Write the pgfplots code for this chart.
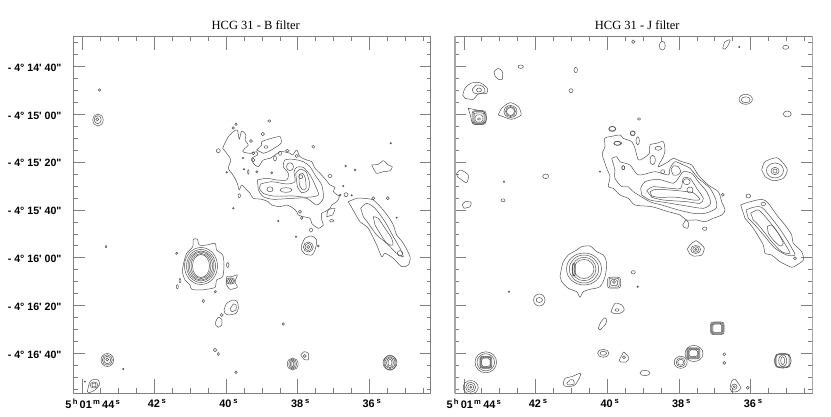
\documentclass[border=0pt]{standalone}
\usepackage{fontspec}
\usepackage{pgfplots}
\pgfplotsset{compat=1.18}
\newfontfamily\lab{Liberation Sans}
\newfontfamily\ttl{Liberation Serif}
\definecolor{cc}{gray}{0.32}
\definecolor{ax}{gray}{0.50}
\pgfdeclareplotmark{rsq}{%
 \pgfpathmoveto{\pgfqpoint{0.55pt}{1pt}}%
 \pgfpathlineto{\pgfqpoint{-0.55pt}{1pt}}%
 \pgfpathcurveto{\pgfqpoint{-0.85pt}{1pt}}{\pgfqpoint{-1pt}{0.85pt}}{\pgfqpoint{-1pt}{0.55pt}}%
 \pgfpathlineto{\pgfqpoint{-1pt}{-0.55pt}}%
 \pgfpathcurveto{\pgfqpoint{-1pt}{-0.85pt}}{\pgfqpoint{-0.85pt}{-1pt}}{\pgfqpoint{-0.55pt}{-1pt}}%
 \pgfpathlineto{\pgfqpoint{0.55pt}{-1pt}}%
 \pgfpathcurveto{\pgfqpoint{0.85pt}{-1pt}}{\pgfqpoint{1pt}{-0.85pt}}{\pgfqpoint{1pt}{-0.55pt}}%
 \pgfpathlineto{\pgfqpoint{1pt}{0.55pt}}%
 \pgfpathcurveto{\pgfqpoint{1pt}{0.85pt}}{\pgfqpoint{0.85pt}{1pt}}{\pgfqpoint{0.55pt}{1pt}}%
 \pgfpathclose\pgfusepathqstroke}
\pgfplotsset{
 contour/.style={no marks,solid,draw=cc,line width=0.5pt,smooth,tension=0.45,line join=round},
 hcgbase/.style={
  scale only axis,width=357.2pt,height=357pt,
  anchor=south west,
  ymin=36.3,ymax=393.3,y dir=reverse,
  tick align=inside,
 },
 hcg/.style={hcgbase,
  axis line style={draw=ax,line width=0.8pt},
  major tick length=14pt,minor tick length=5pt,
  xtick style={draw=ax,line width=0.6pt},
  ytick=\empty,
  xticklabels={\hspace*{15pt}5\textsuperscript{\,h}\,01\textsuperscript{\,m}\,44\textsuperscript{\,s},42\,\textsuperscript{s},40\,\textsuperscript{s},38\,\textsuperscript{s},36\,\textsuperscript{s}},
  xticklabel style={font=\lab\bfseries\fontsize{10.9}{11}\selectfont,xshift=2.7pt,yshift=-2.5pt},
  title style={font=\ttl\fontsize{12.5}{13}\selectfont,at={(0.5,1)},anchor=south,xshift=3.7pt,yshift=-2.5pt},
 },
 hcgy/.style={hcgbase,
  axis line style={draw=none},
  major tick length=11pt,minor tick length=4pt,
  ytick style={draw=ax,line width=0.6pt},
  xtick=\empty,
  ytick={66.3,114.2,162.1,210,257.6,305.4,353.3},
  minor ytick={42.3,54.3,78.3,90.3,102.2,126.2,138.1,150.1,174.1,186,198,222,233.9,245.7,269.5,281.5,293.4,317.4,329.4,341.3,365.3,377.3,389.3},
 },
}
\newcommand\ring[4]{\addplot[only marks,mark=o,mark size=1pt,mark options={solid,draw=cc,fill=none,line width=0.5pt,xscale=#3,yscale=#4}] coordinates {(#1,#2)};}
\newcommand\sq[4]{\addplot[only marks,mark=rsq,mark size=1pt,mark options={solid,draw=cc,fill=none,line width=0.5pt,xscale=#3,yscale=#4}] coordinates {(#1,#2)};}
\begin{document}
\begin{tikzpicture}[x=1pt,y=1pt]
\path[use as bounding box] (0,0) rectangle (831pt,417pt);
% ---------- B filter ----------
\begin{axis}[hcgy,at={(73.5pt,23.7pt)},xmin=73.5,xmax=430.7,
 yticklabels={- 4° 14' 40",- 4° 15' 00",- 4° 15' 20",- 4° 15' 40",- 4° 16' 00",- 4° 16' 20",- 4° 16' 40"},
 yticklabel style={font=\lab\bfseries\fontsize{10.6}{11}\selectfont,anchor=east,xshift=-8.5pt,yshift=-1.2pt},
]
\end{axis}
\begin{axis}[hcg,at={(73.5pt,23.7pt)},title={HCG 31 - B filter},
 xmin=73.5,xmax=430.7,
 xtick={82.7,154.4,226,297.7,369.3},
 minor xtick={100.6,118.5,136.5,172.3,190.2,208.1,243.9,261.8,279.8,315.6,333.5,351.4,387.2,405.1,423},
]
\addplot[contour] coordinates {(224,145)(228.3,136.7)(233.3,131.7)(237.3,130)(239.3,139.3)(241.7,131)(246,135)(245,140)(248.3,145)(245,148.3)(242.7,151.7)(250,153.3)(256.7,151.7)(257.3,155)(251.7,158.3)(253.3,163.3)(258.3,166.7)(263.3,160)(270,158.3)(275,155)(280,151.7)(283.3,151.7)(290,153.3)(292.7,155)(296.7,150)(300,156.7)(306.7,160)(311.7,161.7)(315,168.3)(320,173.3)(326,180)(330,185)(335,187.3)(333.3,191.7)(339.3,196.7)(336.7,201.7)(331.7,205)(330,208.3)(325,211.7)(321.7,213.3)(321.7,220)(323.3,225)(318.3,228.3)(313.3,225)(311.7,223.3)(310,218.3)(303.3,216.7)(298.3,215)(296.7,211.7)(293.3,208.3)(286.7,205)(280,206.7)(271.7,205)(268.3,201.7)(261.7,199.3)(253.3,198.3)(250,193.3)(246.7,190)(241.7,185)(239.3,190)(237.3,183.3)(235,178.3)(231.7,173.3)(228.3,168.3)(230.7,160)(226.7,153.3)(222.7,148.3)} --cycle;
\addplot[contour] coordinates {(257.3,180)(266.7,178.3)(276.7,180)(286.7,180)(288.3,173.3)(283.3,166.7)(285,160)(293.3,159.3)(303.3,161.7)(310,166.7)(315,175)(321.7,185)(323.3,198.3)(316.7,205)(306.7,198.3)(293.3,198.3)(273.3,199.3)(263.3,196.7)(258.3,190)} --cycle;
\addplot[contour] coordinates {(260.7,184)(271.7,181.7)(286.7,184)(295,181.7)(294,171.7)(296.7,167.3)(303.3,167.3)(310,175)(315,185)(318.3,195)(306.7,197.3)(293.3,196)(273.3,196)(263.3,193.3)(259.3,188.3)} --cycle;
\addplot[contour] coordinates {(295.7,173.3)(300,169.3)(306,171.7)(309.3,181.7)(308.3,190)(301.7,192.7)(297.3,186.7)} --cycle;
\addplot[contour] coordinates {(299,175)(302.7,173.3)(305.3,178.3)(306,188.3)(302.7,190)(299.3,185)} --cycle;
\addplot[contour] coordinates {(256.7,150)(261.7,145)(261.7,141.7)(271.7,138.3)(280,136.7)(281,143.3)(274,148.3)(268.3,151.7)(263.3,153.3)} --cycle;
\addplot[contour] coordinates {(326.7,216.7)(328.3,210)(335,208.3)(332.7,215)} --cycle;
\ring{300.7}{176.7}{2}{2}\ring{270}{189.3}{3}{2.5}\ring{286}{190}{6}{2.3}\ring{290}{166.7}{3.5}{4}
\ring{253.3}{153.3}{1.5}{1.5}\ring{287.3}{150.7}{1.8}{1.3}\ring{296.7}{156}{1.8}{1.5}\ring{275}{158.3}{1.5}{2.5}\ring{280}{153.3}{1.5}{2}\ring{248.3}{172}{0.7}{2.2}\ring{243}{158}{0.8}{0.8}\ring{266}{147}{2}{1.3}
% right galaxy
\addplot[contour] coordinates {(348.3,201.7)(356.7,198.3)(363.3,198.3)(373.3,200)(381.7,208.3)(388.3,216.7)(393.3,225)(396.7,235)(403.3,243.3)(410,256.7)(408.3,265)(401.7,266.7)(393.3,258.3)(385,253.3)(381.7,256.7)(376.7,245)(368.3,228.3)(360,221.7)(355,213.3)} --cycle;
\addplot[contour] coordinates {(360.7,208.3)(366.7,203.3)(375,208.3)(385,221.7)(393.3,236.7)(400,248.3)(403.3,256.7)(396.7,253.3)(386.7,243.3)(376.7,235)(368.3,223.3)(363.3,216.7)} --cycle;
\addplot[contour] coordinates {(373.3,216.7)(378.3,218.3)(385,228.3)(391.7,238.3)(392.7,245)(386.7,243.3)(380,233.3)(375,225)} --cycle;
\ring{400}{253.3}{2.7}{2.7}\ring{373.3}{198.3}{1.5}{1.5}
\addplot[contour] coordinates {(371.7,165)(378.3,164.3)(383.3,160.7)(388.3,165)(392.3,166.7)(390,170.7)(383.3,171.7)(376.7,173.3)(373.3,168.3)} --cycle;
% star near 38s
\addplot[contour] coordinates {(301.7,245)(305,238.3)(311.7,236)(316.7,240)(315,250)(311.7,255)(305,254)(301.7,250)} --cycle;
\ring{308.3}{247}{5}{5}\ring{308.3}{247}{3.3}{3.5}\ring{308.3}{247}{1.5}{1.5}\ring{318.3}{246}{1}{1}
% small loops
\ring{99.5}{90}{1.3}{1.3}\ring{269.3}{121}{1.5}{1.3}\ring{236}{124.3}{1.2}{1.2}\ring{233.3}{128}{1.2}{1.2}\ring{262.7}{134}{1.7}{1.7}\ring{313.3}{146.7}{1.5}{1.5}\ring{390.7}{143.3}{0.8}{0.8}\ring{218.3}{150.7}{2}{2}\ring{251}{141}{1.5}{1.5}\ring{253.3}{160}{1.8}{1.8}\ring{345.7}{166}{0.9}{0.9}\ring{355}{170}{0.9}{0.9}\ring{330}{176}{2}{1.5}\ring{343.3}{186}{0.8}{0.8}\ring{346}{194.7}{2}{2}\ring{340}{195.3}{1}{1}\ring{351.7}{195.3}{0.7}{0.7}\ring{387.7}{198.3}{1.5}{1.5}\ring{239.3}{195.7}{1.2}{2}\ring{233.3}{208.3}{0.8}{0.8}\ring{278.3}{221}{0.7}{0.7}\ring{300}{211.7}{1.5}{1.5}\ring{301.7}{218}{1.2}{1.5}\ring{331.7}{220.7}{2}{1.2}\ring{396.7}{217.7}{0.7}{0.7}\ring{311}{230}{1.5}{2}\ring{296}{236.7}{0.8}{0.8}\ring{226.7}{172.3}{0.8}{0.8}\ring{244}{169.3}{0.7}{0.7}\ring{271.7}{172.7}{1}{1}\ring{256.7}{171.7}{1}{1}
% B star upper left
\ring{98}{120}{5.2}{6}\ring{97.7}{119.7}{3.5}{4}\ring{97.3}{119.3}{1.5}{1.5}
% big star
\addplot[contour] coordinates {(182.7,268.3)(184,261.7)(186.7,253.3)(192.7,246.7)(193.3,239.3)(197.3,239.3)(199.3,245)(206.7,245)(215,243.3)(216.7,250)(222.7,255)(224,265)(222.7,276.7)(216.7,280)(215,287.3)(206.7,289.3)(200,290)(191.7,289.3)(190,285)(185,280)(182.7,273.3)} --cycle;
\ring{201}{266}{16.5}{18.5}\ring{201}{266}{14.5}{16.5}\ring{201}{266}{13}{15}\ring{201}{266}{11.5}{14}\ring{201}{266}{10}{12.5}\ring{201}{266}{8.5}{11.5}
\addplot[contour] coordinates {(226.7,276.7)(231.7,276.7)(237.3,275)(235,281.7)(237.3,287.3)(230,289.3)(226.7,285)} --cycle;
\ring{230.5}{281}{4.5}{3.2}\ring{230.5}{281}{3}{2.3}\ring{230.5}{281}{1.5}{1.5}
\ring{227.7}{265}{1.2}{2.5}\ring{180}{280.7}{0.9}{2.2}\ring{177.3}{286.7}{1}{2}\ring{176.7}{253.3}{1.1}{1.1}\ring{203.3}{301}{1.2}{1.7}\ring{215.3}{291.7}{1.1}{1.1}\ring{106}{246.7}{0.9}{1.2}\ring{123.3}{369}{0.8}{0.8}\ring{215}{350}{1.7}{1.7}\ring{218.3}{354}{1.1}{1.5}\ring{236}{372.3}{1.2}{1.2}\ring{283.3}{324}{1.2}{1.2}\ring{85}{381.7}{0.6}{0.6}\ring{221.7}{315}{1.5}{1.5}
\addplot[contour] coordinates {(224,310)(226.7,303.3)(233.3,300)(237.3,301.7)(238.3,308.3)(236,313.3)(228.3,315)(225,313.3)} --cycle;
\addplot[contour] coordinates {(230,309.3)(233.3,304)(236,305)(236,310)(231.7,311.7)} --cycle;
\addplot[contour] coordinates {(215.7,321.7)(218.3,317.3)(221.7,319.3)(221.7,325)(218.3,327.3)(215.7,325)} --cycle;
\ring{107.3}{360}{6.3}{6.5}\ring{107.3}{360}{5}{5.2}\ring{107.3}{360}{3.5}{3.7}\ring{107.3}{359.5}{1.5}{1.5}
\addplot[contour] coordinates {(87.3,391.7)(89.3,383.3)(91.7,380)(98.3,380)(99.3,385)(95,390)(89.3,392.7)} --cycle;
\ring{94}{385}{4}{3}\ring{94}{385}{2}{2}
\ring{292.7}{364}{5.5}{6}\ring{292.7}{364}{4}{5}\ring{292.7}{364}{2.5}{4}\ring{292.7}{364}{1}{3}
\addplot[contour] coordinates {(300.7,355)(304,351.7)(308.3,353.3)(308.3,360)(304,359.3)} --cycle;
\ring{304.7}{356}{1.5}{1.5}
\ring{390}{362.7}{7}{7}\ring{390}{362.7}{6}{7.5}\ring{390}{362.7}{5}{6}\ring{390}{362.7}{3.5}{5}\ring{390}{362.7}{2}{3.5}
\end{axis}
% ---------- J filter ----------
\begin{axis}[hcgy,at={(455pt,23.7pt)},xmin=455,xmax=812.2,yticklabels={}]
\end{axis}
\begin{axis}[hcg,at={(455pt,23.7pt)},title={HCG 31 - J filter},
 xmin=455,xmax=812.2,
 xtick={463.8,535.5,607.2,678.8,750.5},
 minor xtick={481.7,499.6,517.5,553.4,571.3,589.2,625.1,643,660.9,696.8,714.7,732.6,768.4,786.3,804.2},
]
\addplot[contour] coordinates {(602.7,151.7)(605,146.7)(604.7,138.3)(610,136.7)(620,135)(623.3,138.3)(631.7,141.7)(635,148.3)(638.3,160)(643.3,158.3)(649.3,153.3)(650,145)(656.7,143.3)(663.3,141.7)(665,150)(663.3,156.7)(658.3,166.7)(668.3,161.7)(673.3,158.3)(681.7,161.7)(691.7,165)(698.3,175)(708.3,185)(718.3,191.7)(721.7,201.7)(725,210)(721.7,215)(713.3,218.3)(705,221.7)(696.7,220)(686.7,220)(680,215)(668.3,211.7)(651.7,206.7)(635,205)(628.3,198.3)(620,195)(613.3,188.3)(608.3,186.7)(610,176.7)(606.7,168.3)(602.7,156.7)} --cycle;
\addplot[contour] coordinates {(611.7,158.3)(616.7,156.7)(620,161.7)(630,165)(638.3,175)(655,171.7)(668.3,175)(670,168.3)(675,161.7)(683.3,165)(690,168.3)(698.3,178.3)(710,188.3)(716,200)(716,208.3)(705,213.3)(693.3,213.3)(678.3,210)(661.7,205)(650,201.7)(633.3,191.7)(628.3,186.7)(621.7,186.7)(615,178.3)(615,170)} --cycle;
\addplot[contour] coordinates {(640.7,188.3)(645,181.7)(658.3,179.3)(673.3,183.3)(678.3,178.3)(683.3,171.7)(691.7,173.3)(698.3,181.7)(706.7,191.7)(710.7,203.3)(703.3,208.3)(686.7,206)(666.7,202.7)(650,200)(641.7,195)} --cycle;
\addplot[contour] coordinates {(646.7,190.7)(653.3,186.7)(670,188.3)(680.7,188.3)(683.3,178.3)(690,178.3)(696.7,188.3)(703.3,198.3)(700,203.3)(686.7,201.7)(663.3,200)(651.7,197.3)} --cycle;
\addplot[contour] coordinates {(650,191.7)(656.7,189.3)(678.3,190.7)(686.7,191.7)(693.3,192.7)(700,199.3)(693.3,200)(676.7,197.3)(658.3,197.3)(651.7,196)} --cycle;
\addplot[contour] coordinates {(671,170)(673.3,166)(678.3,166.7)(680.7,171.7)(677.3,175)(673.3,175)} --cycle;
\ring{686.7}{181.7}{3.5}{3}\ring{690}{190}{3}{3}
\ring{623.3}{167.7}{1.5}{2}\ring{662.7}{171.7}{2}{2}\ring{652.7}{160}{2.7}{4.7}\ring{658.3}{148.3}{3.3}{2}\ring{637.7}{140.7}{1.7}{4}\ring{617.3}{143.3}{3.3}{2}\ring{632.7}{133.3}{2.3}{2}\ring{612.3}{128.7}{3.3}{2.3}\ring{600}{171.7}{0.6}{0.6}\ring{722.7}{194.7}{1.5}{1.5}\ring{704.7}{228.7}{2.3}{1.7}\ring{748.3}{196}{2.3}{2}
\addplot[contour] coordinates {(682.7,225)(686,220)(688.7,223.3)(687.7,228.3)(684,227.3)} --cycle;
% right galaxy
\addplot[contour] coordinates {(740.7,205)(746.7,202.7)(761.7,199.3)(768.3,203.3)(776.7,215)(785,225)(791.7,235)(793.3,243.3)(801.7,251.7)(803.3,260)(796.7,265)(791.7,267.3)(780,261.7)(771.7,255)(765,253.3)(763.3,245)(753.3,228.3)(745,218.3)} --cycle;
\addplot[contour] coordinates {(746,210)(753.3,207.3)(761.7,207.3)(771.7,218.3)(781.7,231.7)(790,245)(795,255)(786.7,255)(775,248.3)(765,236.7)(755,225)(748.3,218.3)} --cycle;
\addplot[contour] coordinates {(750.7,213.3)(758.3,210)(766.7,218.3)(778.3,233.3)(786.7,246.7)(790,253.3)(781.7,251.7)(771.7,241.7)(760,226.7)(753.3,220)} --cycle;
\addplot[contour] coordinates {(767.3,226.7)(771.7,225)(778.3,233.3)(783.3,243.3)(780,246)(773.3,240)(768.3,233.3)} --cycle;
\ring{763.3}{204}{2.3}{1.7}\ring{795}{258.3}{1.5}{1.5}
% star upper right
\addplot[contour] coordinates {(761.7,170)(765,161.7)(776.7,157.7)(783.3,163.3)(787.3,170)(783.3,178.3)(773.3,180.7)(765,176.7)} --cycle;
\ring{775}{170.5}{8.5}{7.5}\ring{775}{171}{4}{3.7}\ring{775}{171}{2}{2}
\addplot[contour] coordinates {(687.3,249.3)(690,245)(696,240.7)(701.7,245)(704.3,248.3)(701.7,255)(693.3,256)(689.3,253.3)} --cycle;
\ring{695.7}{249.5}{5}{4}\ring{695.7}{249.5}{3}{2.7}\ring{695.7}{249.5}{1}{1}
% big star
\addplot[contour] coordinates {(560,276.7)(562.7,263.3)(568.3,255)(576.7,250)(581.7,246.7)(590,246)(596.7,251.7)(603.3,255)(606.7,263.3)(605,276.7)(600,286.7)(590,289.3)(583.3,291.7)(580,297.3)(576.7,291.7)(568.3,288.3)(561.7,281.7)} --cycle;
\ring{584}{269}{17.5}{16}\ring{584}{269}{14.7}{14}\ring{584}{269}{12}{11.7}\ring{584}{269}{10}{9.5}
\addplot[contour,line width=1pt] coordinates {(572.8,264)(572.8,275)(575,275)(575,264)} --cycle;
\addplot[contour] coordinates {(611,311.7)(615,303.3)(621.7,305)(624.3,310)(620,313.3)(613.3,313.3)} --cycle;
\ring{617}{310}{2}{1.3}
\addplot[contour] coordinates {(598.3,328.3)(601,321.7)(605,317.7)(606.7,320.7)(605,325)(600,330)} --cycle;
\ring{603.3}{353.3}{5.7}{4}\ring{603.3}{353.3}{3.3}{2}
\addplot[contour] coordinates {(619,360.5)(622.5,354)(624,352)(629,358)(626,362)(621,362)} --cycle;
\ring{624}{357.3}{1.5}{1.5}
\addplot[contour] coordinates {(563.3,383.3)(565,378.3)(571.7,376.7)(580,373.3)(580,376.7)(575,385)(568.3,386.7)(564,385.7)} --cycle;
\addplot[contour] coordinates {(566.7,383.3)(570,380)(573.3,380)(574,384)(568.3,385)} --cycle;
\ring{539.3}{300}{5.7}{6}\ring{539.3}{300}{3.2}{2.5}\ring{509}{291.7}{0.7}{0.7}\ring{633.3}{272.3}{2}{1.7}\ring{637.7}{286.7}{0.8}{0.8}
% rounded stars
\sq{485.8}{362.3}{4.2}{4.2}\sq{485.8}{362.3}{4.8}{4.8}\sq{485.8}{362.3}{5.4}{5.4}\sq{485.8}{362.3}{6}{6}\ring{485.8}{362.3}{8.8}{8.6}\ring{485.8}{362.3}{10.8}{10.5}
\ring{470.7}{387.3}{7.5}{6.7}\ring{470.7}{387.3}{5}{5}\ring{470.7}{387.3}{3}{3}\ring{470.7}{387.3}{1}{1}
\sq{614}{282.7}{6.5}{5.5}\sq{614}{282.7}{5}{4.5}\sq{614}{282.7}{3.5}{3}\ring{614}{282}{1.5}{1.5}
\sq{717.3}{328.3}{6.8}{6.3}\sq{717.3}{328.3}{6}{5.6}\sq{717.3}{328.3}{5.2}{4.9}\sq{717.3}{328.3}{4.4}{4.2}
\sq{693.3}{353.3}{6.5}{5.5}\sq{693.3}{353.3}{5.8}{4.8}\sq{693.3}{353.3}{5}{4}\sq{693.3}{353.3}{4.3}{3.3}\ring{694}{353.5}{9}{8}
\ring{680.7}{362.3}{6.5}{6}\ring{680.7}{362.3}{4.5}{4.5}\ring{680.7}{362.3}{3}{3}
\ring{645}{373}{5}{2.7}\ring{724.3}{354.3}{1.5}{1.5}\ring{724.3}{363}{1.5}{1.5}\ring{747.7}{387.7}{1.5}{1.5}
\addplot[contour] coordinates {(730,388.3)(731.7,381)(735,379.3)(738.3,383.3)(741,388.3)(736.7,391.7)(731.7,391.7)} --cycle;
\ring{734.3}{386.7}{2.7}{2.7}\ring{734.3}{386.7}{1}{1}
\sq{782.7}{360.7}{6.5}{6.2}\sq{782.7}{360.7}{7.3}{6.9}\ring{782.7}{360.7}{8.5}{7.5}\ring{782.7}{360.7}{4}{6}\ring{782.7}{360.7}{2}{4}
% top
\ring{633.3}{41.7}{1.7}{1.7}\ring{662.3}{45.7}{3}{4.5}\ring{739.3}{47}{0.8}{0.8}\ring{785.7}{47.3}{3}{2}
\addplot[contour] coordinates {(722.7,48.3)(725,41.7)(730,40)(728.3,45)(725,49.3)} --cycle;
\ring{745.7}{99.3}{6.7}{5}\ring{745.7}{99.8}{4.5}{3}\ring{787.3}{114}{4}{3}\ring{639}{119}{1.5}{1.3}
\addplot[contour] coordinates {(494,71.7)(498.3,68.3)(502.3,71.7)(502.3,79.3)(498.3,79.3)(495,76)} --cycle;
\ring{520.7}{66.7}{2.7}{1.7}\ring{575.7}{70}{1.7}{2.7}\ring{571}{90.7}{2}{2}
\addplot[contour] coordinates {(462.7,95)(465,88.3)(470.7,83.3)(480,82.7)(487.3,88.3)(486.7,93.3)(478.3,94)(473.3,99.3)(465,98.3)} --cycle;
\addplot[contour] coordinates {(472.3,89.3)(476.7,85)(483.3,86.7)(485,91.7)(478.3,94)(473.3,92.7)} --cycle;
\ring{479}{90}{2.5}{2}
\addplot[contour] coordinates {(468.3,108.3)(476.7,110)(483.3,111.7)(486.7,118.3)(483.3,124)(473.3,124)(470.7,116.7)} --cycle;
\sq{479}{117.5}{7}{6.8}\sq{479}{117.5}{6}{6}\sq{479}{118}{5}{5}\sq{479}{118.5}{3.8}{3.6}\ring{479}{119}{1.5}{1.3}
\addplot[contour] coordinates {(498.3,115)(501.7,108.3)(510,102.7)(518.3,106.7)(521,115)(511.7,119.3)(503.3,116.7)} --cycle;
\ring{510.5}{111.5}{6.5}{6}\ring{510.5}{111.5}{5}{5}\ring{510.5}{111.5}{4}{4}
\ring{612.3}{129}{3.5}{2.5}\ring{632.7}{133.3}{2.5}{2.5}\ring{617.7}{143.3}{4}{2}\ring{623.3}{167.7}{1.5}{2}\ring{545.7}{176.3}{3}{2.3}\ring{504}{181.7}{0.8}{0.8}\ring{503}{200.3}{2}{1.5}
\addplot[contour] coordinates {(456.7,173.3)(460.7,170)(468.3,175)(466.7,182.7)(461.7,180)(457.3,176.7)} --cycle;
\addplot[contour] coordinates {(462.3,205)(465,201.7)(471,202.3)(470,206.7)(464,208.3)} --cycle;
\end{axis}
\draw[black!35,line width=1.4pt] (455pt,23.7pt)--(455pt,380.7pt);
\draw[black!35,line width=1.4pt] (812.2pt,23.7pt)--(812.2pt,380.7pt);
\end{tikzpicture}
\end{document}
